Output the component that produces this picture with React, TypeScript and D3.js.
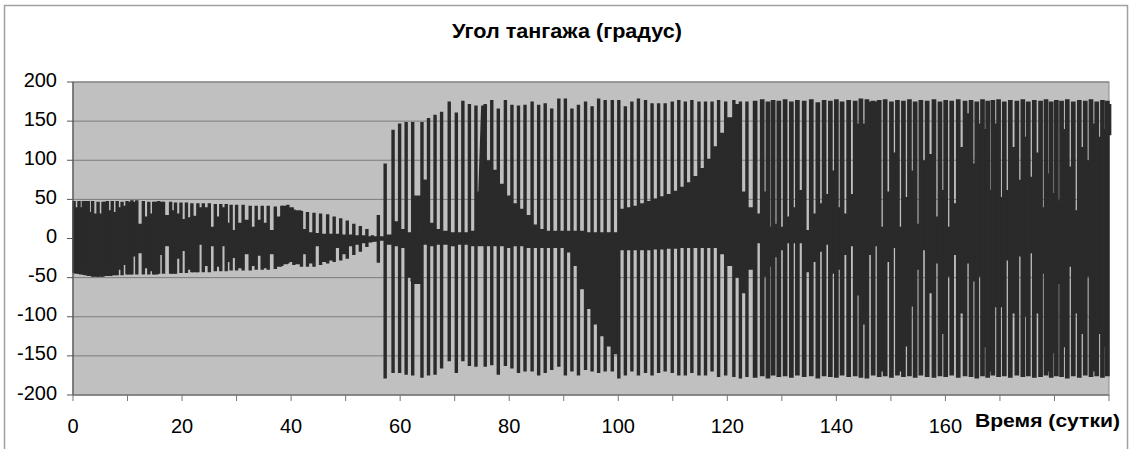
import React from "react";
import * as d3 from "d3";

// chart text
const chartTitle = "Угол тангажа (градус)";
const xTitle = "Время (сутки)";
const yTicks = [-200, -150, -100, -50, 0, 50, 100, 150, 200];
const xLabels = [0, 20, 40, 60, 80, 100, 120, 140, 160];
const xTickMarks = [0, 10, 20, 30, 40, 50, 60, 70, 80, 90, 100, 110, 120, 130, 140, 150, 160, 170, 180, 190];

// libration, days 0..56: one entry per swing (bar), gap values = dark band between swings
const librationDays = [0.2, 1.1, 1.9, 2.8, 3.6, 4.6, 5.5, 6.3, 7.2, 8.1, 9.0, 9.9, 10.8, 11.7, 12.9, 13.9, 14.8, 15.7, 16.6, 17.9, 18.8, 19.8, 20.8, 21.8, 22.9, 23.9, 25.0, 26.1, 27.1, 28.1, 29.0, 30.0, 31.2, 32.5, 33.6, 34.7, 35.8, 37.1, 38.3, 39.4, 40.5, 41.9, 43.0, 44.2, 45.4, 46.7, 47.9, 49.1, 50.3, 51.5, 52.7, 53.9, 54.9, 56.0];
const librationTop = [48, 48, 48, 48, 48, 47, 47, 48, 48, 48, 47, 48, 49, 49, 48, 47, 47, 48, 47, 47, 46, 46, 46, 45, 45, 45, 45, 44, 44, 44, 43, 43, 43, 42, 42, 42, 42, 41, 42, 43, 37, 35, 34, 33, 32, 31, 28, 26, 23, 19, 16, 12, 4, 30];
const librationBottom = [-44, -45, -46, -48, -49, -49, -49, -48, -47, -47, -47, -46, -46, -46, -46, -46, -46, -45, -45, -45, -45, -44, -44, -43, -43, -43, -43, -42, -42, -42, -41, -41, -41, -41, -40, -40, -40, -39, -35, -32, -34, -36, -36, -36, -34, -32, -30, -28, -26, -21, -17, -11, -4, -31];
const librationGapHigh = [40, 40, 48, 34, 32, 32, 47, 36, 34, 40, 42, 47, 47, 19, 28, 32, 47, 47, 30, 36, 32, 25, 27, 29, 40, 40, 15, 28, 40, 20, 11, 20, 24, 15, 24, 20, 11, 28, 42, 40, 36, 12, 8, 7, 6, 6, 6, 5, 5, 4, 4, 3, 3, 3];
const librationGapLow = [-45, -46, -47, -48, -49, -49, -48, -48, -47, -40, -34, -46, -23, -19, -38, -42, -46, -21, -10, -45, -26, -16, -40, -43, -8, -35, -10, -36, -10, -30, -25, -38, -20, -35, -22, -38, -20, -36, -33, -30, -33, -20, -32, -10, -30, -28, -12, -20, -10, -8, -6, -5, -4, -3];

// tumbling, days 57..124: wrap-around jumps
const tumbleDays = [57.25, 58.7, 59.9, 61.1, 62.3, 64.0, 65.2, 66.4, 67.6, 69.0, 70.3, 71.5, 72.7, 73.9, 75.6, 76.8, 78.0, 79.3, 80.5, 81.7, 82.9, 84.2, 85.4, 86.6, 87.8, 89.1, 90.3, 91.5, 92.7, 94.0, 95.2, 96.4, 97.6, 98.9, 100.1, 101.3, 102.5, 103.7, 105.0, 106.2, 107.4, 108.6, 109.9, 111.1, 112.3, 113.5, 114.8, 116.0, 117.2, 118.4, 119.7, 121.2, 122.4, 123.6];
const tumbleTop = [96, 139, 147, 149, 149, 149, 154, 158, 162, 175, 161, 176, 172, 170, 172, 177, 166, 177, 171, 170, 171, 175, 171, 173, 166, 179, 179, 166, 171, 175, 169, 179, 177, 177, 177, 169, 175, 179, 177, 173, 173, 173, 175, 177, 175, 177, 175, 175, 175, 177, 175, 177, 175, 175];
const tumbleBottom = [-179, -172, -172, -174, -175, -178, -175, -174, -166, -157, -172, -157, -163, -164, -164, -162, -174, -163, -166, -172, -170, -170, -175, -172, -168, -164, -175, -170, -175, -168, -170, -172, -170, -170, -179, -175, -170, -175, -172, -175, -172, -170, -172, -175, -175, -172, -175, -175, -170, -177, -175, -177, -179, -177];
const tumbleGapHigh = [5, 22, 12, 8, 55, 75, 20, 12, 10, 8, 8, 8, 10, 60, 100, 88, 70, 55, 45, 38, 30, 18, 12, 10, 10, 10, 10, 10, 10, 8, 8, 8, 8, 8, 38, 40, 42, 45, 48, 51, 54, 57, 61, 66, 72, 80, 90, 102, 118, 135, 155, 172, 60, 40];
const tumbleGapLow = [-8, -10, -12, -50, -58, -8, -10, -8, -8, -10, -8, -8, -10, -10, -10, -10, -10, -12, -10, -10, -12, -12, -12, -12, -12, -12, -18, -35, -65, -90, -110, -125, -138, -148, -15, -15, -15, -15, -15, -14, -14, -13, -13, -12, -12, -12, -12, -12, -12, -20, -35, -50, -70, -40];

// fast tumbling, days 125..190
const spinDays = [125.1, 126.4, 127.45, 128.4, 129.45, 130.6, 131.75, 132.85, 134.1, 135.4, 136.6, 137.75, 138.9, 140.0, 141.05, 142.25, 143.45, 144.5, 145.6, 146.75, 147.85, 148.95, 150.1, 151.2, 152.3, 153.4, 154.45, 155.5, 156.65, 157.9, 159.0, 160.05, 161.15, 162.35, 163.6, 164.7, 165.75, 166.8, 167.75, 168.7, 169.75, 170.8, 171.9, 173.1, 174.2, 175.2, 176.3, 177.45, 178.45, 179.4, 180.35, 181.3, 182.35, 183.45, 184.55, 185.65, 186.7, 187.75, 188.8, 189.7, 190.0];
const spinTop = [176, 178, 175, 177, 176, 178, 175, 177, 176, 178, 174, 177, 176, 178, 175, 177, 176, 179, 178, 176, 177, 178, 175, 177, 176, 178, 175, 177, 176, 178, 175, 177, 176, 178, 176, 177, 175, 178, 176, 177, 178, 175, 177, 176, 178, 175, 177, 176, 178, 175, 177, 176, 178, 175, 177, 176, 178, 175, 177, 176, 172];
const spinBottom = [-178, -176, -179, -175, -177, -176, -178, -175, -177, -176, -179, -176, -177, -178, -175, -177, -176, -178, -179, -175, -177, -176, -178, -175, -177, -176, -178, -175, -177, -178, -176, -177, -175, -178, -176, -177, -179, -176, -178, -175, -177, -176, -178, -175, -177, -176, -178, -177, -175, -178, -176, -177, -179, -176, -178, -175, -177, -176, -178, -176, 132];
const spinGapHigh = [32, 60, 15, 19, 15, 28, 40, 62, 11, 32, 45, 57, 87, 40, 32, 57, 147, 147, 175, 175, 15, 60, 110, 15, 53, 87, 19, 100, 108, 28, 62, 15, 45, 117, 160, 96, 147, 140, 62, 147, 53, 62, 117, 75, 130, 79, 110, 40, 83, 58, 49, 140, 92, 36, 117, 100, 147, 130, 140, 174];
const spinGapLow = [-6, -49, -36, -24, -15, -6, -6, -6, -43, -30, -17, -8, -45, -40, -21, -10, -73, -110, -21, -10, -170, -30, -12, -170, -138, -87, -40, -15, -70, -32, -122, -49, -21, -96, -32, -55, -49, -139, -170, -88, -88, -28, -96, -23, -100, -19, -96, -45, -170, -147, -58, -139, -36, -96, -122, -49, -170, -122, -139, -150];

// slow rotations crossing a couple of jumps: [day, deg] -> [day, deg]
const rampFrom = [[62.4, -55], [74.6, 0]];
const rampTo = [[64.8, 75], [75.4, 170]];

type Cycle = { t: number; top: number; bottom: number; hi: number; lo: number };

const toCycles = (days: number[], tops: number[], bottoms: number[], his: number[], los: number[]): Cycle[] =>
  days.map((t, i) => ({
    t,
    top: tops[i],
    bottom: bottoms[i],
    hi: his[i] ?? tops[i],
    lo: los[i] ?? bottoms[i],
  }));

const DARK = "#2a2a2a";

const App = () => {
  const left = 73, right = 1109, top = 82, bottom = 395;
  const x = d3.scaleLinear().domain([0, 190]).range([left, right]);
  const y = d3.scaleLinear().domain([-200, 200]).range([bottom, top]);

  const segments = [
    { name: "libration", w: 3.4, cycles: toCycles(librationDays, librationTop, librationBottom, librationGapHigh, librationGapLow) },
    { name: "tumble", w: 3.4, cycles: toCycles(tumbleDays, tumbleTop, tumbleBottom, tumbleGapHigh, tumbleGapLow) },
    { name: "spin", w: 4.7, cycles: toCycles(spinDays, spinTop, spinBottom, spinGapHigh, spinGapLow) },
  ];
  const allCycles = segments.flatMap((s) => s.cycles);

  const gapArea = d3
    .area<Cycle>()
    .x((d) => x(d.t))
    .y0((d) => y(d.lo))
    .y1((d) => y(d.hi))
    .curve(d3.curveStepAfter);

  const barPath = (cycles: Cycle[]) => {
    const p = d3.path();
    cycles.forEach((c) => {
      p.moveTo(x(c.t), y(c.top));
      p.lineTo(x(c.t), y(c.bottom));
    });
    return p.toString();
  };

  const rampLine = d3
    .line<number[]>()
    .x((d) => x(d[0]))
    .y((d) => y(d[1]));

  const font = "'Liberation Sans', Arial, sans-serif";

  return (
    <div style={{ position: "absolute", left: 0, top: 0 }}>
      <svg width={1134} height={449} style={{ display: "block", background: "#fff" }}>
        <rect x={4.5} y={5.5} width={1123} height={460} fill="#fff" stroke="#a0a0a0" strokeWidth={1.5} />
        <text x={567} y={38} textAnchor="middle" fontFamily={font} fontWeight="bold" fontSize={20} textLength={230} lengthAdjust="spacingAndGlyphs" fill="#000">
          {chartTitle}
        </text>

        <rect x={left} y={top} width={right - left} height={bottom - top} fill="#c0c0c0" stroke="#8a8a8a" strokeWidth={1} />
        {yTicks.map((v) => (
          <line key={"g" + v} x1={left} x2={right} y1={y(v)} y2={y(v)} stroke="#7c7c7c" strokeWidth={1} />
        ))}

        <path d={gapArea(allCycles) || ""} fill={DARK} />
        {segments.map((s) => (
          <path key={s.name} d={barPath(s.cycles)} stroke={DARK} strokeWidth={s.w} fill="none" />
        ))}
        {rampFrom.map((a, i) => (
          <path key={"r" + i} d={rampLine([a, rampTo[i]]) || ""} stroke={DARK} strokeWidth={6} fill="none" />
        ))}

        <line x1={left} x2={left} y1={top} y2={bottom} stroke="#555" strokeWidth={1.2} />
        <line x1={left} x2={right} y1={bottom} y2={bottom} stroke="#777" strokeWidth={1.2} />
        {yTicks.map((v) => (
          <g key={"y" + v}>
            <line x1={left - 6} x2={left} y1={y(v)} y2={y(v)} stroke="#555" strokeWidth={1} />
            <text x={57} y={y(v) + 4.5} textAnchor="end" fontFamily={font} fontSize={20} fill="#000">
              {v}
            </text>
          </g>
        ))}
        {xTickMarks.map((v) => (
          <line key={"xt" + v} x1={x(v)} x2={x(v)} y1={bottom} y2={bottom + 6} stroke="#777" strokeWidth={1} />
        ))}
        {xLabels.map((v) => (
          <text key={"xl" + v} x={x(v)} y={433} textAnchor="middle" fontFamily={font} fontSize={20} fill="#000">
            {v}
          </text>
        ))}
        <text x={975} y={427} fontFamily={font} fontWeight="bold" fontSize={18} textLength={145} lengthAdjust="spacingAndGlyphs" fill="#000">
          {xTitle}
        </text>
      </svg>
    </div>
  );
};

export default App;
